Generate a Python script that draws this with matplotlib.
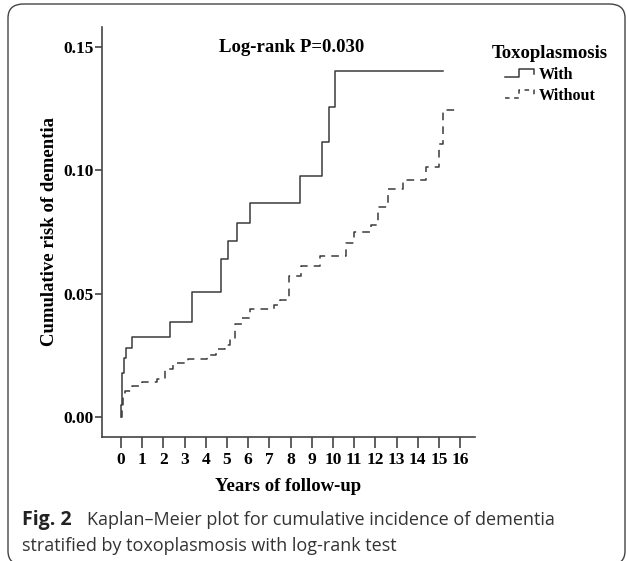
import matplotlib.pyplot as plt
from matplotlib.lines import Line2D
from matplotlib.legend_handler import HandlerBase
from matplotlib.patches import FancyBboxPatch

# Данные (время в годах, накопленный риск)
with_t = [0, 0.02, 0.05, 0.15, 0.25, 0.5, 2.3, 3.37, 4.72, 5.06, 5.45, 6.1,
          8.44, 9.5, 9.83, 10.08, 15.2]
with_v = [0, 0.005, 0.018, 0.024, 0.028, 0.0325, 0.0385, 0.0505, 0.064,
          0.0715, 0.0787, 0.0866, 0.0977, 0.1113, 0.1255, 0.140, 0.140]

without_t = [0, 0.03, 0.08, 0.2, 0.5, 1.0, 1.7, 2.07, 2.47, 3.18, 4.04, 4.5,
             4.9, 5.14, 5.38, 5.69, 6.08, 7.2, 7.5, 7.9, 8.5, 9.4, 10.5, 10.6,
             11.0, 11.8, 12.1, 12.6, 13.3, 14.4, 15.0, 15.2, 15.9]
without_v = [0, 0.0046, 0.0086, 0.0106, 0.0126, 0.014, 0.0153, 0.0194, 0.022,
             0.0237, 0.025, 0.0277, 0.029, 0.0312, 0.0375, 0.0402, 0.0438,
             0.0455, 0.0476, 0.0573, 0.0613, 0.0653, 0.0653, 0.0704, 0.0751,
             0.0778, 0.0852, 0.0922, 0.096, 0.1013, 0.1108, 0.1245, 0.1245]

x_ticks = list(range(0, 17))
y_ticks = [0.00, 0.05, 0.10, 0.15]
y_labels = ['0.00', '0.05', '0.10', '0.15']

serif = 'Liberation Serif'
line_col = '#3a3a3a'
axis_col = '#444444'


# Значок легенды в виде ступеньки, как в SPSS
class StepHandler(HandlerBase):
    def create_artists(self, legend, orig_handle, xdescent, ydescent,
                       width, height, fontsize, trans):
        xs = [-xdescent, 0.45 * width, 0.45 * width, 0.9 * width, 0.9 * width]
        ys = [0.15 * height, 0.15 * height, 0.85 * height, 0.85 * height, 0.45 * height]
        ln = Line2D(xs, ys)
        ln.update_from(orig_handle)
        ln.set_transform(trans)
        return [ln]


fig = plt.figure(figsize=(6.27, 5.61), dpi=100)

# Рамка вокруг рисунка (низ обрезан краем картинки)
frame = FancyBboxPatch((8 / 627, -4 / 561), 617 / 627, 561 / 561,
                       boxstyle='round,pad=0,rounding_size=0.025',
                       transform=fig.transFigure, fill=False,
                       edgecolor='#444444', linewidth=1.0)
fig.patches.append(frame)

ax = fig.add_axes([102 / 627, 1 - 437 / 561, 373 / 627, 410 / 561])

ax.step(with_t, with_v, where='post', color=line_col, lw=1.1)
ax.step(without_t, without_v, where='post', color=line_col, lw=1.1,
        linestyle=(0, (5, 4)))

ax.set_xlim(-0.9, 16.7)
ax.set_ylim(-0.0081, 0.158)
ax.set_xticks(x_ticks)
ax.set_xticklabels([str(t) for t in x_ticks], fontfamily=serif,
                   fontweight='bold', fontsize=12.5)
ax.set_yticks(y_ticks)
ax.set_yticklabels(y_labels, fontfamily=serif, fontweight='bold', fontsize=12.5)
ax.tick_params(axis='x', direction='out', length=8, width=1.2,
               color=axis_col, pad=3)
ax.tick_params(axis='y', direction='out', length=5, width=1.2,
               color=axis_col, pad=1)

for s in ['top', 'right']:
    ax.spines[s].set_visible(False)
for s in ['left', 'bottom']:
    ax.spines[s].set_color(axis_col)
    ax.spines[s].set_linewidth(1.2)

ax.set_xlabel('Years of follow-up', fontfamily=serif, fontweight='bold',
              fontsize=13.5, labelpad=7)
ax.set_ylabel('Cumulative risk of dementia', fontfamily=serif,
              fontweight='bold', fontsize=13.5, labelpad=4)

fig.text(292 / 627, 1 - 47 / 561, 'Log-rank P=0.030', fontfamily=serif,
         fontweight='bold', fontsize=13.5, ha='center', va='center')

h1 = Line2D([], [], color=line_col, lw=1.1)
h2 = Line2D([], [], color=line_col, lw=1.1, linestyle=(0, (3, 3)))
leg = fig.legend([h1, h2], ['With', 'Without'], title='Toxoplasmosis',
                 loc='upper center', bbox_to_anchor=(550 / 627, 1 - 34 / 561),
                 frameon=False, handler_map={Line2D: StepHandler()},
                 handlelength=2.0, handletextpad=0.1, labelspacing=0.3,
                 borderpad=0.2,
                 prop={'family': serif, 'weight': 'bold', 'size': 11.5},
                 title_fontproperties={'family': serif, 'weight': 'bold', 'size': 13.5})

# Подпись к рисунку
fig.text(22 / 627, 1 - 520 / 561, 'Fig. 2', fontfamily='Open Sans',
         fontweight='bold', fontsize=14, va='center', color='#222222')
fig.text(87 / 627, 1 - 520 / 561,
         'Kaplan\u2013Meier plot for cumulative incidence of dementia',
         fontfamily='Open Sans', fontsize=13, va='center', color='#333333')
fig.text(22 / 627, 1 - 546 / 561,
         'stratified by toxoplasmosis with log-rank test',
         fontfamily='Open Sans', fontsize=13, va='center', color='#333333')

fig.savefig('out.png', dpi=100)
